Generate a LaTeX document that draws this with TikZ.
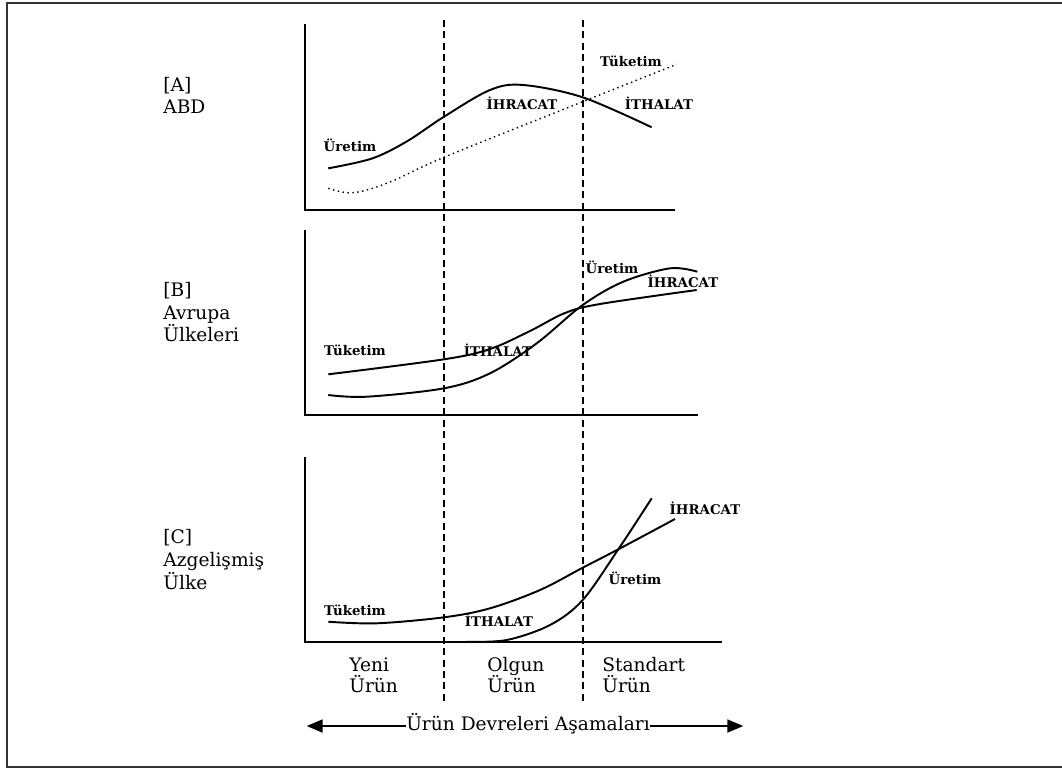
\documentclass[tikz,border=0pt]{standalone}
\usepackage{fontspec}
\setmainfont{DejaVu Serif}
\usetikzlibrary{arrows.meta}
\tikzset{
  axis/.style={line width=0.9pt},
  curve/.style={line width=1.1pt, smooth, tension=0.55},
  dotcurve/.style={line width=0.8pt, dotted, smooth, tension=0.6},
  divider/.style={line width=1.1pt, dash pattern=on 4pt off 2.5pt},
  lbl/.style={font=\fontsize{7.6}{9}\selectfont\bfseries, inner sep=0pt},
  big/.style={font=\fontsize{10.6}{12}\selectfont, inner sep=0pt, anchor=base west},
  frame/.style={line width=1.2pt, draw=black!80}
}
\begin{document}
\begin{tikzpicture}[x=0.02cm, y=-0.02cm]
\useasboundingbox (0,0) rectangle (1062,769);
% frame (open on the right)
\draw[frame] (1062,2.7) -- (6.7,2.7) -- (6.7,766.7) -- (1062,766.7);

% stage dividers
\draw[divider] (444,20) -- (444,703);
\draw[divider] (582.7,20) -- (582.7,703);

% ---------- Panel A ----------
\draw[axis] (305,24) -- (305,210) -- (675,210);
\draw[curve] plot coordinates {(328.3,168.3) (372,158.5) (406.7,141.5) (444,116.7) (490,90) (523.3,85) (582.7,97.3) (651.7,127.3)};
\draw[dotcurve] plot coordinates {(328.3,188.3) (353.3,192.7) (390,182) (444,157.3) (582.7,101.7) (676.7,64.3)};
\node[lbl] (aU) at (350,145) {Üretim};
\node[lbl] (aI) at (522,103) {İHRACAT};
\node[lbl] (aT) at (659,103) {İTHALAT};
\node[lbl] (aK) at (631,61) {Tüketim};
\node[big] (A1) at (163,91.7) {[A]};
\node[big] (A2) at (163,113.3) {ABD};

% ---------- Panel B ----------
\draw[axis] (305,230) -- (305,415) -- (698,415);
\draw[curve] plot coordinates {(328.3,374.3) (444,359.3) (490,349) (530,331) (565,313) (600,304) (696.7,290)};
\draw[curve] plot coordinates {(328.3,395) (366.7,396.7) (444,388.3) (490,373.3) (536.7,343.3) (582.7,305) (623.3,281.7) (670,268.3) (697.3,271.7)};
\node[lbl] (bU) at (612,267) {Üretim};
\node[lbl] (bI) at (683,281) {İHRACAT};
\node[lbl] (bK) at (355,350) {Tüketim};
\node[lbl] (bT) at (498,350) {İTHALAT};
\node[big] (B1) at (163,296.7) {[B]};
\node[big] (B2) at (163,319) {Avrupa};
\node[big] (B3) at (163,341.7) {Ülkeleri};

% ---------- Panel C ----------
\draw[axis] (305,457) -- (305,642) -- (722,642);
\draw[curve] plot coordinates {(328.3,621.7) (376.7,623.3) (444,617.3) (490,608.3) (540,590) (582.7,567.7) (618.3,549.3) (675,519)};
\draw[curve] plot coordinates {(466.7,641.7) (506.7,640) (550,625) (582.7,600) (618.3,549.3) (651.7,498.3)};
\node[lbl] (cI) at (705,508) {İHRACAT};
\node[lbl] (cU) at (635,578) {Üretim};
\node[lbl] (cK) at (355,610) {Tüketim};
\node[lbl] (cT) at (499,620) {İTHALAT};
\node[big] (C1) at (163,543) {[C]};
\node[big] (C2) at (163,566) {Azgelişmiş};
\node[big] (C3) at (163,589) {Ülke};

% ---------- stage names ----------
\node[big] (s1a) at (349,671) {Yeni};
\node[big] (s1b) at (349,692) {Ürün};
\node[big] (s2a) at (487,671) {Olgun};
\node[big] (s2b) at (487,692) {Ürün};
\node[big] (s3a) at (602,671) {Standart};
\node[big] (s3b) at (602,692) {Ürün};

% ---------- bottom arrow ----------
\node[font=\fontsize{10.6}{12}\selectfont, inner sep=0pt, anchor=base] (arr) at (528,730.7) {Ürün Devreleri Aşamaları};
\coordinate (aL) at (306.7,726);
\coordinate (aR) at (743.3,726);
\draw[line width=1pt, -{Triangle[length=3.2mm, width=2.6mm]}] (aL -| arr.west) -- (aL);
\draw[line width=1pt, -{Triangle[length=3.2mm, width=2.6mm]}] (aR -| arr.east) -- (aR);
\end{tikzpicture}
\end{document}
